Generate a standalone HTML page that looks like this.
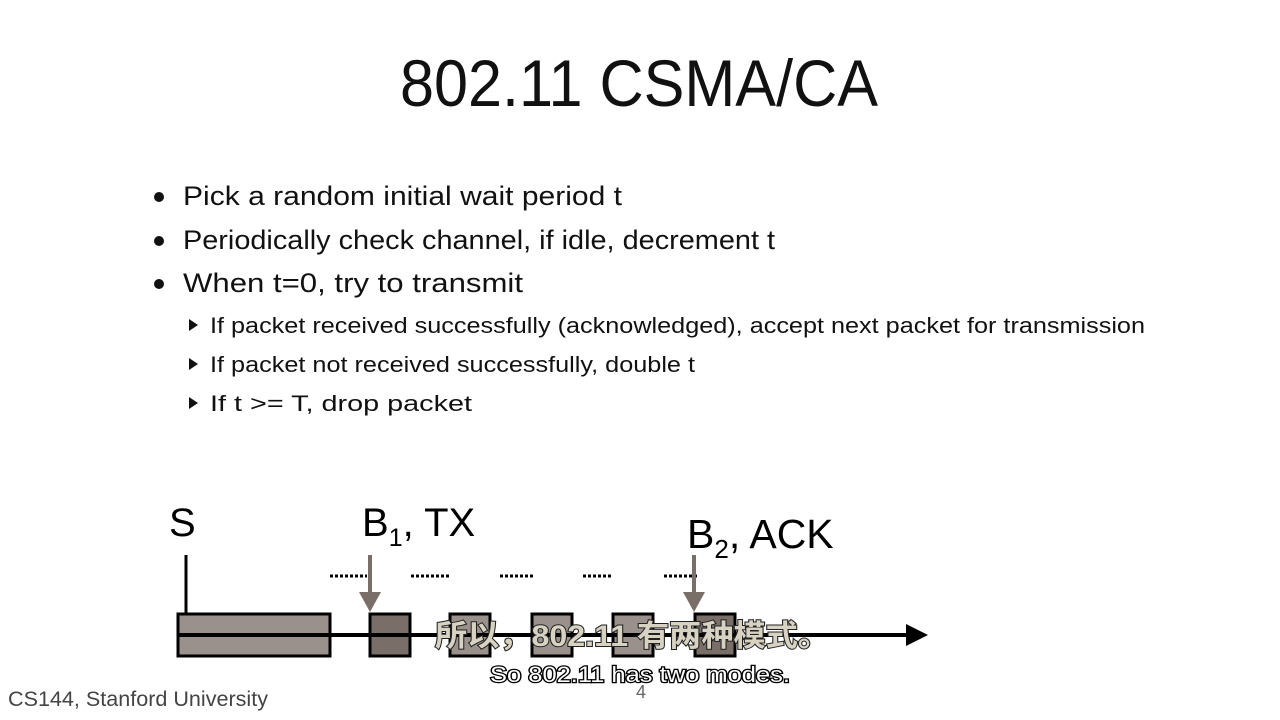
<!DOCTYPE html>
<html><head><meta charset="utf-8"><style>body{margin:0;background:#fff}svg{display:block}</style></head>
<body>
<svg width="1280" height="720" viewBox="0 0 1280 720" xmlns="http://www.w3.org/2000/svg" font-family="Liberation Sans, sans-serif">
<text x="400" y="106" font-size="66" textLength="478" lengthAdjust="spacingAndGlyphs" fill="#111">802.11 CSMA/CA</text>
<g fill="#111">
<circle cx="159" cy="197" r="5"/><circle cx="159" cy="241" r="5"/><circle cx="159" cy="284" r="5"/>
<text x="183" y="205" font-size="27" textLength="439" lengthAdjust="spacingAndGlyphs">Pick a random initial wait period t</text>
<text x="183" y="249" font-size="27" textLength="592" lengthAdjust="spacingAndGlyphs">Periodically check channel, if idle, decrement t</text>
<text x="183" y="292" font-size="27" textLength="340" lengthAdjust="spacingAndGlyphs">When t=0, try to transmit</text>
<polygon points="189,319 198,325 189,331"/><polygon points="189,358 198,364 189,370"/><polygon points="189,397 198,403 189,409"/>
<text x="210" y="333" font-size="22" textLength="935" lengthAdjust="spacingAndGlyphs">If packet received successfully (acknowledged), accept next packet for transmission</text>
<text x="210" y="372" font-size="22" textLength="485" lengthAdjust="spacingAndGlyphs">If packet not received successfully, double t</text>
<text x="210" y="411" font-size="22" textLength="262" lengthAdjust="spacingAndGlyphs">If t &gt;= T, drop packet</text>
</g>
<text x="169" y="536" font-size="40" fill="#000">S</text>
<text x="362" y="536" font-size="40" fill="#000">B<tspan font-size="25" dy="10">1</tspan><tspan dy="-10">, TX</tspan></text>
<text x="687" y="548" font-size="41" fill="#000">B<tspan font-size="26" dy="10">2</tspan><tspan dy="-10">, ACK</tspan></text>
<line x1="186" y1="555" x2="186" y2="614" stroke="#000" stroke-width="3"/>
<g stroke="#000" stroke-width="3" fill="#9a918c">
<rect x="178" y="614" width="152" height="42"/>
<rect x="450" y="614" width="40" height="42"/>
<rect x="532" y="614" width="40" height="42"/>
<rect x="613" y="614" width="40" height="42"/>
</g>
<g stroke="#000" stroke-width="3" fill="#7a6e69">
<rect x="370" y="614" width="40" height="42"/>
<rect x="695" y="614" width="40" height="42"/>
</g>
<line x1="178" y1="635" x2="910" y2="635" stroke="#000" stroke-width="4"/>
<polygon points="906,624 928,635 906,646" fill="#000"/>
<g stroke="#000" stroke-width="3" stroke-dasharray="3,2">
<line x1="330" y1="576" x2="367" y2="576"/><line x1="411" y1="576" x2="450" y2="576"/>
<line x1="500" y1="576" x2="533" y2="576"/><line x1="583" y1="576" x2="613" y2="576"/>
<line x1="664" y1="576" x2="697" y2="576"/>
</g>
<g stroke="#7a6e69" stroke-width="4"><line x1="370" y1="555" x2="370" y2="595"/><line x1="694" y1="555" x2="694" y2="595"/></g>
<g fill="#7a6e69"><polygon points="359,592 381,592 370,612"/><polygon points="683,592 705,592 694,612"/></g>
<text x="8" y="706" font-size="21" fill="#444" textLength="260" lengthAdjust="spacingAndGlyphs">CS144, Stanford University</text>
<text x="636" y="698" font-size="18" fill="#666">4</text>
<text x="435" y="646" font-size="30" font-weight="bold" font-family="Liberation Sans, Noto Sans CJK SC, sans-serif" fill="#d8d2c2" stroke="#222" stroke-width="2" paint-order="stroke" textLength="395" lengthAdjust="spacingAndGlyphs">所以，802.11 有两种模式。</text>
<text x="490" y="682" font-size="22" fill="#fff" stroke="#000" stroke-width="2.5" paint-order="stroke" textLength="300" lengthAdjust="spacingAndGlyphs">So 802.11 has two modes.</text>
</svg>
</body></html>
